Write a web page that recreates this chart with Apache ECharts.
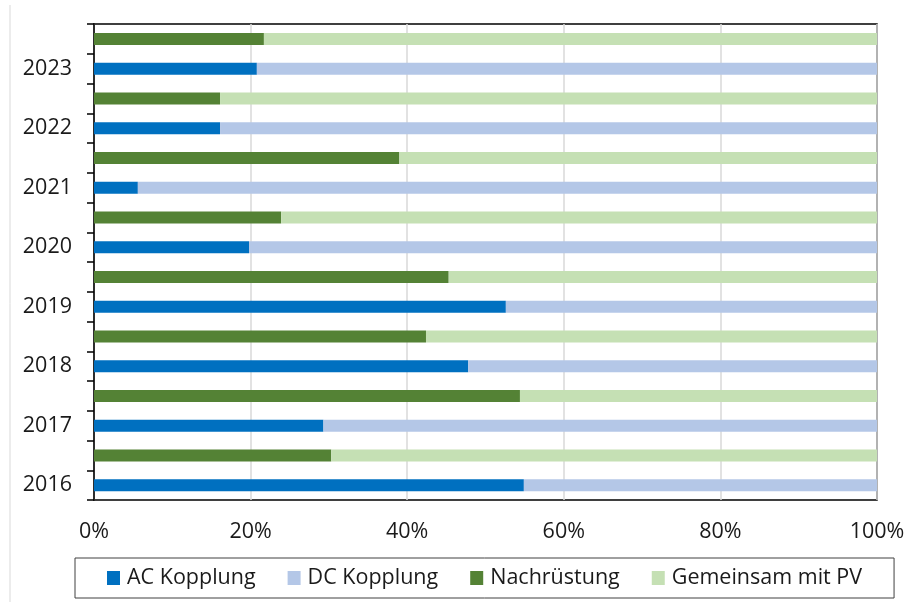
<!DOCTYPE html>
<html><head><meta charset="utf-8">
<script src="https://cdn.jsdelivr.net/npm/echarts@6/dist/echarts.min.js"></script>
<style>html,body{margin:0;padding:0;background:#fff}#c{width:909px;height:602px}</style>
</head><body><div id="c"></div>
<script>
const years = ['2016','2017','2018','2019','2020','2021','2022','2023'];
const acKopplung = [54.9, 29.3, 47.8, 52.6, 19.8, 5.6, 16.1, 20.8];
const dcKopplung = [45.1, 70.7, 52.2, 47.4, 80.2, 94.4, 83.9, 79.2];
const nachruestung = [30.3, 54.4, 42.4, 45.3, 23.9, 39.0, 16.1, 21.7];
const gemeinsamPV = [69.7, 45.6, 57.6, 54.7, 76.1, 61.0, 83.9, 78.3];
const xTicks = [0, 20, 40, 60, 80, 100];

const cats = [];
years.forEach(y => { cats.push(y); cats.push(y + ' '); });
function blueRow(arr){ const o=[]; arr.forEach(v=>{o.push(v); o.push('-');}); return o; }
function greenRow(arr){ const o=[]; arr.forEach(v=>{o.push('-'); o.push(v);}); return o; }

const font = 'Open Sans';
const fs = 21.5;
const chart = echarts.init(document.getElementById('c'));
chart.setOption({
  animation:false,
  textStyle:{fontFamily:font},
  grid:{left:94, right:32, top:24, bottom:102, show:true, borderColor:'#000', borderWidth:1.5, containLabel:false},
  xAxis:{type:'value', min:xTicks[0], max:xTicks[xTicks.length-1], interval:20,
    axisLine:{show:false}, axisTick:{show:false},
    axisLabel:{formatter:'{value}%', fontSize:fs, color:'#1a1a1a', margin:21, fontFamily:font},
    splitLine:{lineStyle:{color:'#d9d9d9', width:1.5}}},
  yAxis:{type:'category', data:cats,
    axisLine:{lineStyle:{color:'#000', width:1.5}},
    axisTick:{show:true, interval:0, length:7, lineStyle:{color:'#000', width:1.5}},
    axisLabel:{interval:1, fontSize:fs, color:'#1a1a1a', margin:22, fontFamily:font},
    splitLine:{show:false}},
  legend:{left:75, top:558, padding:[9,32,9,32], itemGap:32, itemWidth:13, itemHeight:14,
    borderColor:'#404040', borderWidth:1, icon:'rect',
    textStyle:{fontSize:fs, color:'#1a1a1a', fontFamily:font, padding:[0,0,0,2]},
    data:['AC Kopplung','DC Kopplung','Nachrüstung','Gemeinsam mit PV']},
  graphic:[{type:'line', shape:{x1:10, y1:5, x2:10, y2:602}, style:{stroke:'#d9d9d9', lineWidth:1}}],
  series:[
    {name:'AC Kopplung', type:'bar', stack:'s', barWidth:12, data:blueRow(acKopplung), itemStyle:{color:'#0070C0'}},
    {name:'DC Kopplung', type:'bar', stack:'s', barWidth:12, data:blueRow(dcKopplung), itemStyle:{color:'#B4C7E7'}},
    {name:'Nachrüstung', type:'bar', stack:'s', barWidth:12, data:greenRow(nachruestung), itemStyle:{color:'#548235'}},
    {name:'Gemeinsam mit PV', type:'bar', stack:'s', barWidth:12, data:greenRow(gemeinsamPV), itemStyle:{color:'#C5E0B4'}}
  ]
});
</script></body></html>
